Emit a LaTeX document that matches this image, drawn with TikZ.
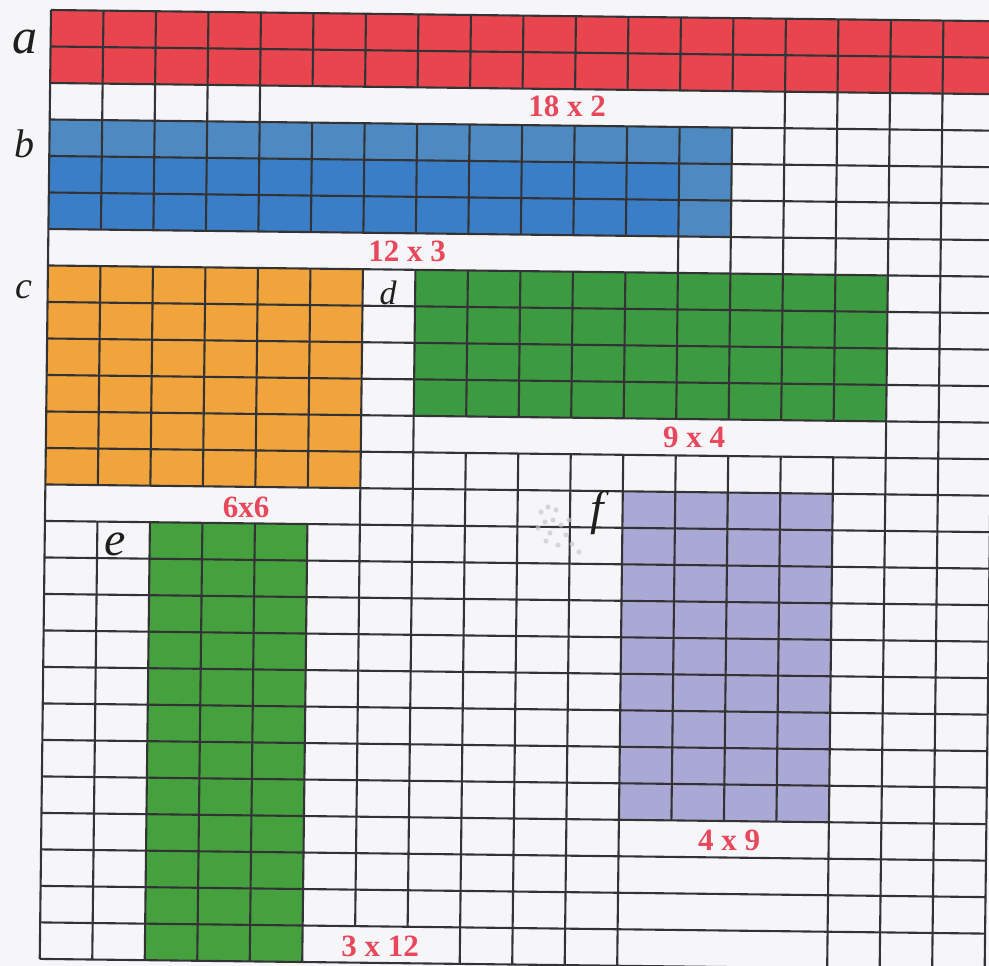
\documentclass[tikz,border=0pt]{standalone}
\usepackage{fontspec}
\setmainfont{Liberation Serif}
\definecolor{paper}{HTML}{F6F6F8}
\definecolor{gridc}{HTML}{333335}
\definecolor{redc}{HTML}{E9454F}
\definecolor{bluec}{HTML}{3A7EC7}
\definecolor{bluelt}{HTML}{4E89C1}
\definecolor{orangec}{HTML}{F2A43C}
\definecolor{greend}{HTML}{3C9B41}
\definecolor{greene}{HTML}{45A13E}
\definecolor{lavc}{HTML}{AAA8D4}
\definecolor{labred}{HTML}{E8475C}
\definecolor{smudge}{HTML}{C8C8CC}
\tikzset{
  gridline/.style={draw=gridc, line width=2.1pt},
  whiteout/.style={fill=paper},
  dimlabel/.style={text=labred, font=\bfseries\fontsize{31}{31}\selectfont, inner sep=0pt},
  letterlabel/.style={text=black!88, inner sep=0pt},
  speck/.style={fill=smudge, opacity=0.7}
}
\begin{document}
\begin{tikzpicture}[x=1pt,y=-1pt]
\useasboundingbox (0,0) rectangle (989,966);
\fill[paper] (0,0) rectangle (989,966);
\begin{scope}
\clip (0,0) rectangle (989,966);
\begin{scope}[shift={(51pt,-10pt)}, rotate=-0.68, x=52.5pt, y=-36.5pt]
  % coloured blocks
  \fill[redc] (0,0) rectangle (18,2);
  \fill[bluec] (0,3) rectangle (13,6);
  \fill[bluelt] (0,3) rectangle (13,4);
  \fill[bluelt] (12,4) rectangle (13,6);
  \fill[orangec] (0,7) rectangle (6,13);
  \fill[greend] (7,7) rectangle (16,11);
  \fill[greene] (2,14) rectangle (5,26);
  \fill[lavc] (11,13) rectangle (15,22);
  % vertical lines
  \foreach \c in {0,...,18} \draw[gridline] (\c,0) -- (\c,26);
  % merged label bars (no inner vertical lines)
  \fill[whiteout] (4.035,2) rectangle (13.965,3);
  \fill[whiteout] (0.035,6) rectangle (11.965,7);
  \fill[whiteout] (7.035,11) rectangle (15.965,12);
  \fill[whiteout] (0.035,13) rectangle (5.965,14);
  \fill[whiteout] (11.035,22) rectangle (14.965,26);
  \fill[whiteout] (5.035,25) rectangle (7.965,26);
  % horizontal lines
  \foreach \r in {0,...,26} \draw[gridline] (0,\r) -- (18,\r);
\end{scope}
\end{scope}
% faint smudge left of f
\foreach \p in {(541,512),(548,507),(556,510),(545,522),(553,520),(561,525),(538,528),(550,533),(566,535),(572,544),(558,545),(579,552),(546,541),(569,520)}
  \fill[speck] \p circle (2.6);
% dimension labels
\node[dimlabel] (la) at (567,106) {18 x 2};
\node[dimlabel] (lb) at (407,251) {12 x 3};
\node[dimlabel] (ld) at (694,437) {9 x 4};
\node[dimlabel] (lc) at (246,507) {6x6};
\node[dimlabel] (lf) at (729,840) {4 x 9};
\node[dimlabel] (le) at (380,946) {3 x 12};
% handwritten letters
\node[letterlabel, font=\itshape\fontsize{50}{50}\selectfont] (ta) at (25,42) {a};
\node[letterlabel, font=\itshape\fontsize{40}{40}\selectfont] (tb) at (25,144) {b};
\node[letterlabel, font=\itshape\fontsize{38}{38}\selectfont] (tc) at (24,290) {c};
\node[letterlabel, font=\itshape\fontsize{34}{34}\selectfont] (td) at (388,293) {d};
\node[letterlabel, font=\itshape\fontsize{48}{48}\selectfont] (te) at (115,544) {e};
\node[letterlabel, font=\itshape\fontsize{48}{48}\selectfont] (tf) at (597,513) {f};
\end{tikzpicture}
\end{document}
